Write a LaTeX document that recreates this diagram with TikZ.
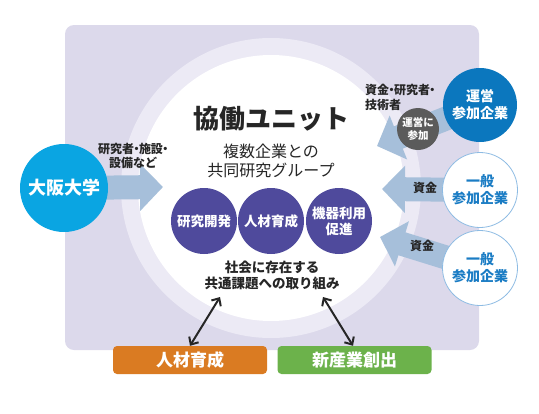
\documentclass[tikz,border=0pt]{standalone}
\usepackage{fontspec}
\setmainfont{Noto Sans CJK JP}
\usetikzlibrary{arrows.meta, positioning}

\definecolor{bgpurple}{HTML}{DCD9EB}
\definecolor{ringpurple}{HTML}{ECEAF5}
\definecolor{unicyan}{HTML}{0AA5E2}
\definecolor{unitpurple}{HTML}{4F4A9C}
\definecolor{opblue}{HTML}{0B77BE}
\definecolor{opgray}{HTML}{5B5B5B}
\definecolor{flowblue}{HTML}{A6BFDA}
\definecolor{hrorange}{HTML}{DA7B22}
\definecolor{indgreen}{HTML}{6CB24B}
\definecolor{textblue}{HTML}{1A7CC4}
\definecolor{rimblue}{HTML}{8DBBE3}
\newcommand{\nakaten}{\kern-.3em・\kern-.3em}

\pgfdeclarelayer{back}
\pgfdeclarelayer{flowlayer}
\pgfsetlayers{back,flowlayer,main}

\tikzset{
  actor/.style={circle, minimum size=#1, inner sep=0pt, align=center,
    font=\bfseries\fontsize{14}{17}\selectfont},
  task/.style={circle, fill=unitpurple, text=white, minimum size=66pt,
    inner sep=0pt, align=center, font=\bfseries\fontsize{13.5}{16}\selectfont},
  outcome/.style={rounded corners=4pt, minimum width=154pt, minimum height=28pt,
    text=white, font=\bfseries\fontsize{17}{20}\selectfont},
  note/.style={align=left, text=black!85, inner sep=0pt,
    font=\bfseries\fontsize{12}{14.5}\selectfont},
  flow/.style={draw=flowblue, line width=24pt, -{Triangle[length=23pt, width=46pt]}},
  link/.style={{Straight Barb[length=6pt,width=11pt]}-{Straight Barb[length=6pt,width=11pt]},
    line width=2pt, black!85}
}

\begin{document}
\begin{tikzpicture}[x=1pt, y=-1pt]
    \useasboundingbox (0,0) rectangle (539,413);

    % backdrop and ring
    \begin{pgfonlayer}{back}
        \fill[bgpurple, rounded corners=9pt] (65,25) rectangle (479,350);
        \fill[ringpurple] (271,188) circle (150pt);
        \fill[white] (271,188) circle (133pt);
    \end{pgfonlayer}

    % unit
    \node[font=\bfseries\fontsize{26}{30}\selectfont, text=black!85] (title) at (271,119) {協働ユニット};
    \node[align=center, font=\fontsize{16}{19}\selectfont, text=black!85] (group) at (271,161) {複数企業との\\共同研究グループ};
    \node[task] (rd) at (204,221) {研究開発};
    \node[task] (hrd) at (271,221) {人材育成};
    \node[task] (equip) at (339,221) {機器利用\\促進};
    \node[align=center, text=black!85, font=\bfseries\fontsize{13.5}{16}\selectfont] (issue) at (272,275) {社会に存在する\\共通課題への取り組み};

    % partners
    \node[actor=88pt, fill=unicyan, text=white, font=\bfseries\fontsize{18}{21}\selectfont] (uni) at (64,188) {大阪大学};
    \node[actor=74pt, fill=opblue, text=white] (op) at (480,105) {運営\\参加企業};
    \node[circle, fill=opgray, text=white, minimum size=42pt, inner sep=0pt, align=center,
          font=\bfseries\fontsize{10.5}{13}\selectfont] (join) at (418,129) {運営に\\参加};
    \node[actor=75pt, fill=white, draw=rimblue, line width=0.8pt, text=textblue] (gen1) at (480,190) {一般\\参加企業};
    \node[actor=75pt, fill=white, draw=rimblue, line width=0.8pt, text=textblue] (gen2) at (480,268) {一般\\参加企業};

    % outcomes
    \node[outcome, fill=hrorange] (hr) at (190,360) {人材育成};
    \node[outcome, fill=indgreen] (ind) at (354.5,360) {新産業創出};

    % flows into the unit
    \coordinate (tipU) at (163,187);
    \coordinate (tipA) at (377,146);
    \coordinate (tipB) at (382,189);
    \coordinate (tipC) at (380,237);
    \begin{pgfonlayer}{flowlayer}
        \draw[flow] (uni.center) -- (tipU);
        \draw[flow] (op.center) -- (tipA);
        \draw[flow] (gen1.center) -- (tipB);
        \draw[flow] (gen2.center) -- (tipC);
    \end{pgfonlayer}

    \node[note, align=center] (uniLbl) at (133,156) {研究者\nakaten 施設\nakaten\\設備など};
    \node[note, anchor=north west] (opLbl) at (365,84) {資金\nakaten 研究者\nakaten\\技術者};
    \node[note] (genLbl1) at (425,188) {資金};
    \node[note] (genLbl2) at (422,246) {資金};

    % links to outcomes
    \coordinate (issueL) at (220,297);
    \coordinate (issueR) at (323,297);
    \draw[link] (issueL) -- ([xshift=0pt]hr.north);
    \draw[link] (issueR) -- ([xshift=-1.5pt]ind.north);
\end{tikzpicture}
\end{document}
